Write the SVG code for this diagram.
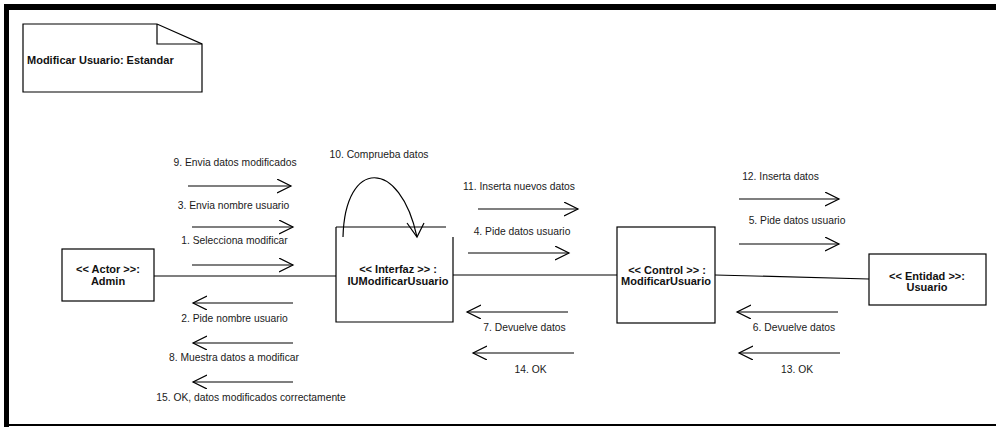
<svg xmlns="http://www.w3.org/2000/svg" width="996" height="427" viewBox="0 0 996 427">
  <defs>
    <marker id="open" markerUnits="userSpaceOnUse" markerWidth="16" markerHeight="16" refX="14" refY="7" orient="auto">
      <path d="M0,0 L14,7 L0,14" fill="none" stroke="#000" stroke-width="1.2"/>
    </marker>
    <style>
      .box { fill: #fff; stroke: #000; stroke-width: 1.2; }
      .edge { fill: none; stroke: #000; stroke-width: 1.2; }
      .msg { fill: none; stroke: #000; stroke-width: 1.2; marker-end: url(#open); }
      .lbl { font-family: "Liberation Sans", Arial, sans-serif; font-size: 10.3px; fill: #1a1a1a; text-anchor: middle; }
      .nd { font-family: "Liberation Sans", Arial, sans-serif; font-size: 11px; font-weight: bold; fill: #111; text-anchor: middle; }
    </style>
  </defs>
  <rect width="996" height="427" fill="#fff"/>
  <g id="frame">
    <rect x="4" y="4" width="992" height="6" fill="#000"/>
    <rect x="4" y="4" width="5" height="423" fill="#000"/>
    <line x1="4" y1="425" x2="996" y2="425" stroke="#000" stroke-width="2"/>
  </g>
  <g id="note">
    <path d="M23,24 L157,24 L202,44 L202,92 L23,92 Z" class="box"/>
    <path d="M157,24 L157,44 L202,44" class="edge"/>
    <text x="27" y="64" class="nd" style="text-anchor:start">Modificar Usuario: Estandar</text>
  </g>
  <g id="connectors">
    <line x1="154" y1="276" x2="336" y2="276" class="edge"/>
    <line x1="453" y1="275" x2="617" y2="275" class="edge"/>
    <line x1="715" y1="275" x2="869" y2="279" class="edge"/>
    <path d="M343,237 C345,158 400,158 417,237" class="edge"/>
    <polyline points="407,223 417,237 424,223" class="edge"/>
    <line x1="188" y1="186" x2="291" y2="186" class="msg"/>
    <line x1="192" y1="227" x2="293" y2="227" class="msg"/>
    <line x1="192" y1="265" x2="293" y2="265" class="msg"/>
    <line x1="478" y1="209" x2="578" y2="209" class="msg"/>
    <line x1="468" y1="253" x2="569" y2="253" class="msg"/>
    <line x1="739" y1="199" x2="839" y2="199" class="msg"/>
    <line x1="739" y1="244" x2="839" y2="244" class="msg"/>
    <line x1="293" y1="303" x2="193" y2="303" class="msg"/>
    <line x1="293" y1="343" x2="193" y2="343" class="msg"/>
    <line x1="293" y1="382" x2="193" y2="382" class="msg"/>
    <line x1="568" y1="312" x2="467" y2="312" class="msg"/>
    <line x1="574" y1="353" x2="473" y2="353" class="msg"/>
    <line x1="838" y1="312" x2="737" y2="312" class="msg"/>
    <line x1="840" y1="353" x2="739" y2="353" class="msg"/>
    <text x="235" y="166" class="lbl">9. Envia datos modificados</text>
    <text x="233.5" y="209" class="lbl">3. Envia nombre usuario</text>
    <text x="234.5" y="244" class="lbl">1. Selecciona modificar</text>
    <text x="234.5" y="322" class="lbl">2. Pide nombre usuario</text>
    <text x="234" y="361" class="lbl">8. Muestra datos a modificar</text>
    <text x="251" y="401" class="lbl">15. OK, datos modificados correctamente</text>
    <text x="379" y="158" class="lbl">10. Comprueba datos</text>
    <text x="519" y="190" class="lbl">11. Inserta nuevos datos</text>
    <text x="522" y="235" class="lbl">4. Pide datos usuario</text>
    <text x="524.5" y="331" class="lbl">7. Devuelve datos</text>
    <text x="530.5" y="373" class="lbl">14. OK</text>
    <text x="780.5" y="180" class="lbl">12. Inserta datos</text>
    <text x="797" y="224" class="lbl">5. Pide datos usuario</text>
    <text x="794" y="331" class="lbl">6. Devuelve datos</text>
    <text x="797" y="373" class="lbl">13. OK</text>
  </g>
  <g id="actor">
    <rect x="62" y="249" width="92" height="52" class="box"/>
    <text x="108" y="273" class="nd">&lt;&lt; Actor &gt;&gt;:</text>
    <text x="108" y="285" class="nd">Admin</text>
  </g>
  <g id="interfaz">
    <path d="M336,227 L446,227 M453,237 L453,322 L336,322 L336,227" class="edge"/>
    <text x="398" y="273" class="nd">&lt;&lt; Interfaz &gt;&gt; :</text>
    <text x="398" y="285" class="nd">IUModificarUsuario</text>
  </g>
  <g id="control">
    <rect x="617" y="227" width="98" height="96" class="box"/>
    <text x="667" y="274" class="nd">&lt;&lt; Control &gt;&gt; :</text>
    <text x="666" y="285" class="nd">ModificarUsuario</text>
  </g>
  <g id="entidad">
    <rect x="869" y="254" width="117" height="51" class="box"/>
    <text x="927" y="280" class="nd">&lt;&lt; Entidad &gt;&gt;:</text>
    <text x="927" y="291" class="nd">Usuario</text>
  </g>
</svg>
